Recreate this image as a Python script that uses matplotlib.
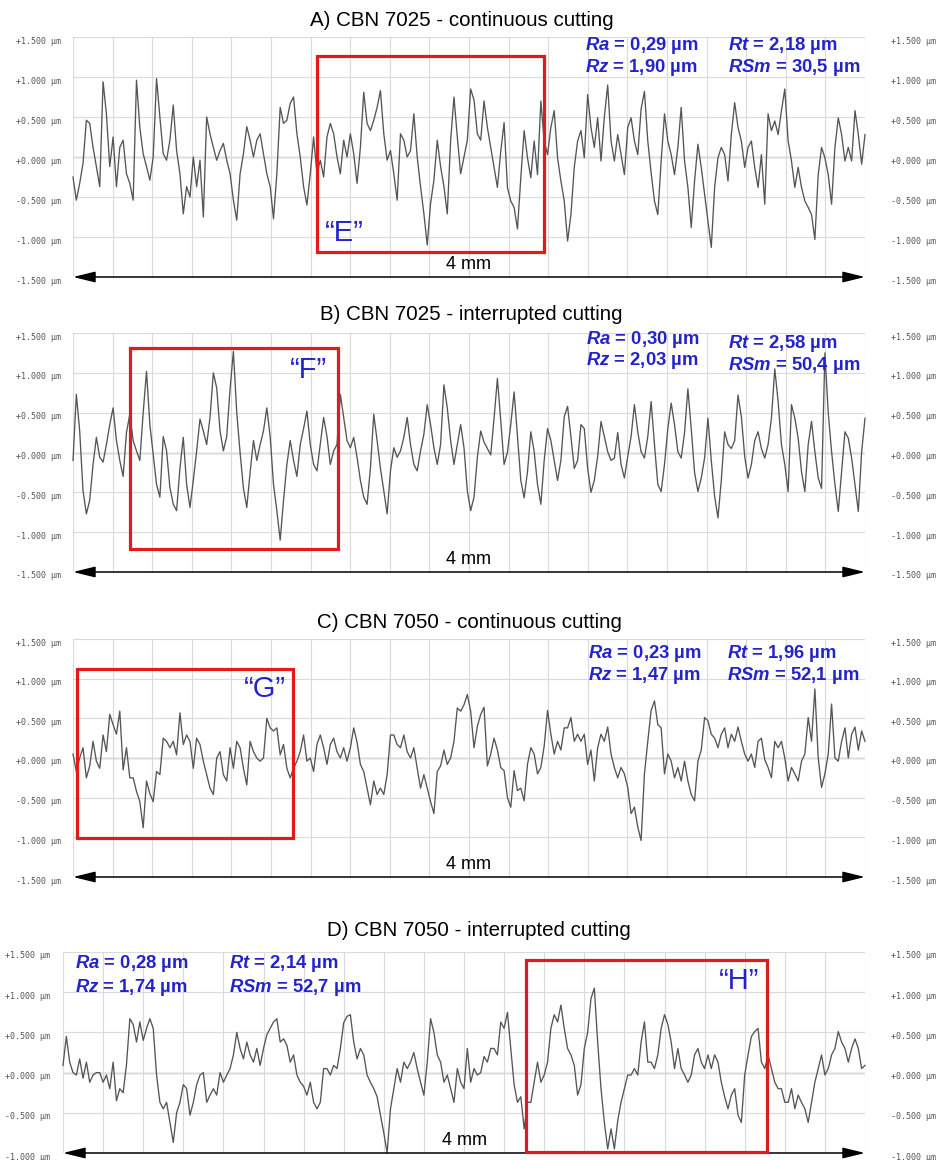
"""Roughness profiles for CBN 7025 / CBN 7050, continuous vs interrupted cutting."""

import matplotlib
matplotlib.use("Agg")
import matplotlib.pyplot as plt
import numpy as np
from matplotlib.patches import Rectangle
from matplotlib.transforms import ScaledTranslation

plt.rcParams["font.family"] = ["Liberation Sans", "DejaVu Sans"]
plt.rcParams["mathtext.fontset"] = "custom"
plt.rcParams["mathtext.it"] = "Liberation Sans:italic:bold"
plt.rcParams["mathtext.rm"] = "Liberation Sans:bold"

# ---- data: profile height (um), sampled evenly along the 4 mm traverse ----
profile_a = [
    -0.25, -0.54, -0.33, -0.08, 0.46, 0.42, 0.12, -0.12, -0.37, 0.94,
    0.54, -0.12, 0.25, -0.37, 0.12, 0.21, -0.21, -0.33, -0.54, 0.96,
    0.37, 0.04, -0.12, -0.29, 0.0, 0.98, 0.5, 0.04, -0.04, 0.21,
    0.65, 0.08, -0.21, -0.71, -0.37, -0.5, 0.0, -0.37, -0.04, -0.75,
    0.5, 0.29, 0.12, -0.04, 0.08, 0.17, -0.04, -0.21, -0.54, -0.79,
    -0.21, 0.04, 0.38, 0.21, 0.0, 0.21, 0.29, 0.04, -0.21, -0.37,
    -0.77, -0.21, 0.62, 0.42, 0.46, 0.67, 0.75, 0.29, 0.0, -0.37,
    -0.6, -0.21, 0.25, -0.21, -0.04, -0.25, 0.25, 0.42, 0.29, 0.0,
    -0.21, 0.21, 0.0, 0.29, 0.04, -0.33, 0.12, 0.81, 0.42, 0.33,
    0.46, 0.62, 0.83, 0.29, -0.04, 0.08, -0.21, -0.54, 0.29, 0.21,
    0.0, 0.08, 0.54, 0.0, -0.37, -0.71, -1.1, -0.58, -0.29, 0.21,
    -0.12, -0.37, -0.71, 0.2, 0.75, 0.25, -0.21, 0.0, 0.21, 0.85,
    0.71, 0.29, 0.21,
    0.7, 0.37, 0.12, -0.13, -0.38, 0.07, 0.43, -0.38, -0.55, -0.63,
    -0.9, -0.26, 0.33, -0.01, -0.26, 0.2, -0.22, 0.7, 0.2, 0.03,
    0.37, 0.58, -0.01, -0.3, -0.55, -1.05, -0.72, -0.13, 0.2, 0.33,
    -0.01, 0.78, 0.37, 0.12, 0.49, -0.05, 0.5, 0.9, 0.2, -0.05,
    0.28, 0.03, -0.22, 0.37, 0.49, 0.2, 0.03, 0.6, 0.82, 0.2,
    -0.2, -0.55, -0.72, -0.05, 0.54, 0.2, 0.03, -0.22, 0.12, 0.62,
    -0.05, -0.38, -0.88, -0.3, 0.16, -0.13, -0.47, -0.8, -1.13, -0.38,
    -0.01, 0.12, 0.03, -0.3, 0.28, 0.68, 0.37, 0.2, -0.13, 0.12,
    0.2, -0.13, -0.38, 0.03, -0.59, 0.54, 0.33, 0.45, 0.28, 0.58,
    0.85, 0.2, -0.05, -0.38, -0.13, -0.38, -0.55, -0.63, -0.72, -1.03,
    -0.22, 0.12, -0.01, -0.22, -0.59, 0.12, 0.49, 0.28, -0.05, 0.12,
    -0.05, 0.58, 0.28, -0.09, 0.28,
]

profile_b = [
    -0.1, 0.73, 0.27, -0.48, -0.77, -0.6, -0.15, 0.19, -0.06, -0.12,
    0.1, 0.35, 0.56, 0.15, -0.1, -0.3, 0.25, 0.48, 0.15, 0.02,
    -0.1, 0.5, 1.02, 0.35, -0.02, -0.4, -0.56, 0.2, 0.02, -0.44,
    -0.65, -0.73, -0.2, 0.19, -0.4, -0.69, -0.35, 0.02, 0.42, 0.27,
    0.1, 0.44, 1.0, 0.81, 0.27, 0.02, 0.2, 0.8, 1.27, 0.5,
    0.0, -0.45, -0.69, -0.25, 0.15, -0.1, 0.1, 0.27, 0.56, 0.2,
    -0.4, -0.73, -1.1, -0.6, -0.15, 0.15, -0.1, -0.3, 0.1, 0.3,
    0.52, 0.1, -0.15, -0.23, 0.1, 0.44, 0.2, -0.15, 0.02, 0.1,
    0.73, 0.44, 0.15, 0.06, 0.19, -0.06, -0.35, -0.56, -0.65, -0.2,
    0.48, 0.15, -0.2, -0.48, -0.77, -0.23, 0.06, -0.06, 0.02, 0.19,
    0.44, 0.1, -0.15, -0.23, 0.02, 0.23, 0.6, 0.35, 0.06, -0.15,
    0.1, 0.85, 0.56, 0.15, -0.15, 0.1, 0.35, 0.06, -0.48, -0.73,
    -0.56, -0.06, 0.27,
    0.13, 0.05, -0.03, 0.43, 0.93, 0.4, -0.15, 0.0, 0.35, 0.76,
    0.2, -0.35, -0.57, -0.24, 0.26, 0.01, -0.4, -0.65, -0.1, 0.3,
    0.15, -0.1, -0.35, -0.1, 0.45, 0.58, 0.2, -0.2, -0.1, 0.35,
    0.3, -0.2, -0.5, -0.35, -0.05, 0.39, 0.2, 0.01, -0.1, -0.07,
    0.25, -0.15, -0.32, -0.05, 0.2, 0.6, 0.26, 0.01, -0.07, 0.2,
    0.64, 0.1, -0.4, -0.49, -0.15, 0.3, 0.62, 0.35, 0.01, -0.07,
    0.25, 0.8, 0.3, -0.25, -0.49, -0.32, -0.07, 0.43, -0.1, -0.55,
    -0.82, -0.35, 0.26, 0.1, 0.05, 0.15, 0.72, 0.45, -0.05, -0.32,
    -0.15, 0.15, 0.26, 0.05, -0.07, 0.1, 0.43, 1.05, 0.64, 0.1,
    -0.15, -0.49, 0.6, 0.43, 0.18, -0.24, -0.49, 0.1, 0.39, 0.01,
    -0.32, -0.45, 1.25, 0.5, 0.01, -0.4, -0.74, -0.24, 0.26, 0.18,
    -0.07, -0.4, -0.74, 0.01, 0.43,
]

profile_c = [
    0.05, -0.17, 0.0, 0.13, -0.25, -0.1, 0.21, -0.04, -0.13, 0.29,
    0.08, 0.55, 0.42, 0.3, 0.59, -0.15, 0.13, -0.25, -0.25, -0.42,
    -0.55, -0.88, -0.29, -0.45, -0.55, -0.17, -0.21, 0.25, 0.21, 0.13,
    0.21, 0.04, 0.57, 0.17, 0.29, 0.21, -0.13, 0.25, 0.17, -0.04,
    -0.21, -0.38, -0.46, 0.0, 0.08, -0.21, -0.29, 0.13, -0.13, 0.21,
    0.13, -0.13, -0.34, 0.21, 0.08, 0.0, -0.04, 0.0, 0.5, 0.38,
    0.34, 0.38, 0.04, 0.17, -0.13, -0.25, -0.13, -0.04, 0.08, 0.29,
    -0.04, 0.0, -0.17, 0.17, 0.29, 0.13, -0.08, 0.17, 0.25, 0.08,
    0.0, 0.13, -0.04, 0.13, 0.38, 0.2, -0.08, -0.17, -0.38, -0.59,
    -0.29, -0.46, -0.38, -0.46, -0.21, 0.29, 0.29, 0.17, 0.13, 0.29,
    0.08, 0.0, 0.13, -0.13, -0.38, -0.21, -0.38, -0.55, -0.7, -0.17,
    -0.1, 0.1, -0.08, 0.0, 0.21, 0.63, 0.59, 0.67, 0.8, 0.59,
    0.13, 0.4, 0.55,
    0.64, -0.1, 0.05, 0.25, 0.1, -0.12, -0.16, -0.5, -0.62, -0.16,
    -0.41, -0.38, -0.54, -0.08, 0.13, 0.05, -0.2, -0.12, 0.15, 0.6,
    0.3, 0.05, 0.21, 0.1, 0.38, 0.38, 0.51, 0.21, 0.3, 0.21,
    0.3, -0.08, 0.1, -0.29, 0.13, 0.3, 0.21, 0.39, 0.05, -0.12,
    -0.25, -0.12, -0.2, -0.37, -0.7, -0.62, -0.87, -1.04, -0.2, 0.21,
    0.6, 0.72, 0.42, 0.38, -0.2, 0.05, -0.04, -0.25, -0.12, -0.29,
    -0.04, -0.29, -0.46, -0.54, -0.04, 0.1, 0.51, 0.47, 0.3, 0.25,
    0.13, 0.3, 0.38, 0.13, 0.3, 0.21, 0.39, 0.21, 0.05, -0.04,
    0.05, -0.12, 0.21, 0.25, -0.02, -0.12, -0.25, 0.21, 0.13, 0.21,
    0.0, -0.29, -0.12, -0.2, -0.29, -0.04, 0.05, 0.51, 0.21, 0.87,
    0.0, -0.37, -0.2, 0.05, 0.68, 0.0, -0.04, 0.21, 0.38, 0.0,
    0.3, 0.39, 0.1, 0.34, 0.21,
]

profile_d = [
    0.09, 0.45, 0.13, 0.0, -0.03, 0.17, -0.07, 0.13, -0.12, -0.03,
    0.0, 0.0, -0.12, -0.03, -0.2, 0.13, -0.35, -0.2, -0.25, 0.1,
    0.67, 0.6, 0.38, 0.63, 0.4, 0.55, 0.67, 0.55, -0.03, -0.37,
    -0.45, -0.37, -0.62, -0.87, -0.5, -0.37, -0.15, -0.2, -0.53, -0.37,
    -0.15, -0.03, 0.0, -0.37, -0.28, -0.2, -0.28, 0.0, -0.12, -0.03,
    0.05, 0.22, 0.5, 0.3, 0.17, 0.38, 0.22, 0.13, 0.3, 0.09,
    0.3, 0.47, 0.55, 0.63, 0.67, 0.38, 0.42, 0.34, 0.13, 0.22,
    -0.03, -0.12, -0.17, -0.28, -0.12, -0.37, -0.45, -0.37, 0.05, 0.05,
    -0.03, 0.09, 0.05, 0.3, 0.62, 0.7, 0.72, 0.38, 0.17, 0.3,
    0.22, -0.03, -0.12, -0.2, -0.3, -0.53, -0.75, -1.0, -0.45, -0.2,
    0.05, -0.12, 0.13, 0.05, 0.13, 0.25, 0.05, -0.12, -0.28, 0.13,
    0.67, 0.5, 0.22, 0.13, -0.12, -0.03, -0.2, -0.37, 0.05, -0.12,
    -0.2, 0.3, -0.12, 0.05, -0.03, 0.0,
    0.2, 0.13, 0.3, 0.3, 0.22, 0.63, 0.55, 0.75, 0.3, -0.15,
    -0.37, -0.3, -0.7, -0.37, -0.37, -0.12, 0.13, -0.12, -0.03, 0.13,
    0.55, 0.72, 0.63, 0.84, 0.55, 0.3, 0.22, 0.09, -0.28, -0.15,
    0.3, 0.5, 0.92, 1.05, 0.38, -0.2, -0.62, -0.95, -0.7, -0.95,
    -0.6, -0.37, -0.2, -0.03, -0.03, 0.05, -0.03, 0.38, 0.63, 0.13,
    0.13, 0.05, 0.22, 0.55, 0.72, 0.6, 0.38, 0.05, 0.3, 0.05,
    -0.03, -0.12, -0.03, 0.22, 0.3, 0.13, 0.05, 0.22, 0.05, 0.22,
    0.13, -0.12, -0.3, -0.45, -0.28, -0.2, -0.53, -0.62, -0.03, 0.22,
    0.45, 0.51, 0.55, 0.13, 0.05, 0.22, 0.05, -0.12, -0.2, -0.2,
    -0.37, -0.37, -0.2, -0.45, -0.28, -0.37, -0.45, -0.62, -0.37, -0.12,
    0.05, 0.22, -0.03, 0.05, 0.22, 0.3, 0.51, 0.38, 0.3, 0.13,
    0.3, 0.42, 0.3, 0.05, 0.09,
]

profiles = [profile_a, profile_b, profile_c, profile_d]
titles = [
    "A) CBN 7025 - continuous cutting",
    "B) CBN 7025 - interrupted cutting",
    "C) CBN 7050 - continuous cutting",
    "D) CBN 7050 - interrupted cutting",
]
ra_values = ["0,29", "0,30", "0,23", "0,28"]
rz_values = ["1,90", "2,03", "1,47", "1,74"]
rt_values = ["2,18", "2,58", "1,96", "2,14"]
rsm_values = ["30,5", "50,4", "52,1", "52,7"]
zone_names = ["E", "F", "G", "H"]
length_mm = 4.0

# ---- layout (pixels of the 941 x 1160 canvas) ----
W, H = 941, 1160
axes_px = [(73, 37, 865, 277), (73, 333, 865, 572), (73, 639, 865, 877), (63, 952, 865, 1153)]
ylims = [(-1.5, 1.5), (-1.5, 1.5), (-1.5, 1.5), (-1.0, 1.5)]
title_px = [(462, 20), (471, 315), (469, 622), (479, 930)]
# (x col1, y Ra, y Rz, x col2, y Rt, y RSm)
stats_px = [(585, 45, 67, 728, 45, 67), (586, 340, 361, 728, 343, 366),
            (588, 653, 675, 727, 653, 676), (75, 963, 987, 229, 963, 987)]
zone_boxes = [(1.23, -1.19, 2.38, 1.26), (0.29, -1.21, 1.34, 1.31),
              (0.02, -1.01, 1.11, 1.125), (2.31, -0.99, 3.51, 1.40)]
zone_labels = [(1.37, -0.95), (1.19, 1.03), (0.97, 0.875), (3.37, 1.14)]

BLUE = "#2323cc"
RED = "#e01b1b"
TRACE = "#555555"
GRID = "#dadada"

fig = plt.figure(figsize=(W / 100, H / 100), dpi=100)
fig.patch.set_facecolor("white")
label_shift = ScaledTranslation(0, -3 / 100, fig.dpi_scale_trans)


def fig_xy(x, y):
    return x / W, 1 - y / H


for i, prof in enumerate(profiles):
    left, top, right, bottom = axes_px[i]
    ax = fig.add_axes([left / W, 1 - bottom / H, (right - left) / W, (bottom - top) / H])
    lo, hi = ylims[i]

    x = np.linspace(0, length_mm, len(prof))
    ax.plot(x, prof, color=TRACE, lw=0.95, clip_on=False, zorder=3)

    ax.set_xlim(0, length_mm)
    ax.set_ylim(lo, hi)
    for s in ax.spines.values():
        s.set_visible(False)

    ax.set_xticks(np.arange(0, length_mm + 0.01, 0.2))
    ax.tick_params(axis="x", length=0, labelbottom=False)
    yt = np.arange(hi, lo - 0.01, -0.5)
    ylabels = [f"{v:+.3f} \u00b5m" for v in yt]
    ax.set_yticks(yt)
    ax.set_yticklabels(ylabels, fontfamily="DejaVu Sans Mono", fontsize=6, color="#555555")
    ax.tick_params(axis="y", length=0, pad=9)
    ax.grid(True, color=GRID, lw=0.8, zorder=0)
    ax.axhline(0, color="#8a8a8a", lw=0.9, zorder=1)

    sec = ax.secondary_yaxis("right")
    sec.set_yticks(yt)
    sec.set_yticklabels(ylabels, fontfamily="DejaVu Sans Mono", fontsize=6, color="#555555")
    sec.tick_params(length=0, pad=19)
    sec.spines["right"].set_visible(False)
    for lab in ax.get_yticklabels() + sec.get_yticklabels():
        lab.set_transform(lab.get_transform() + label_shift)

    # 4 mm traverse arrow
    ax.annotate("", xy=(length_mm, lo), xytext=(0, lo),
                arrowprops=dict(arrowstyle="<|-|>,head_length=0.9,head_width=0.22",
                                color="black", lw=1.1, mutation_scale=15,
                                shrinkA=0, shrinkB=0),
                annotation_clip=False, zorder=4)
    ax.annotate("4 mm", xy=(length_mm / 2, lo), xytext=(0, 3), textcoords="offset points",
                ha="center", va="bottom", fontsize=13, zorder=4)

    # highlighted zone
    x0, y0, x1, y1 = zone_boxes[i]
    ax.add_patch(Rectangle((x0, y0), x1 - x0, y1 - y0, fill=False,
                           edgecolor=RED, lw=2.3, zorder=5, clip_on=False))
    lx, ly = zone_labels[i]
    ax.text(lx, ly, "\u201c" + zone_names[i] + "\u201d", color=BLUE, fontsize=21,
            ha="center", va="center", zorder=6)

    # title
    fig.text(*fig_xy(*title_px[i]), titles[i], ha="center", va="center", fontsize=14.8)

    # roughness parameters
    c1x, ra_y, rz_y, c2x, rt_y, rsm_y = stats_px[i]
    kw = dict(color=BLUE, fontsize=13.3, fontweight="bold", va="center", ha="left")
    fig.text(*fig_xy(c1x, ra_y), f"$Ra$ = {ra_values[i]} \u00b5m", **kw)
    fig.text(*fig_xy(c1x, rz_y), f"$Rz$ = {rz_values[i]} \u00b5m", **kw)
    fig.text(*fig_xy(c2x, rt_y), f"$Rt$ = {rt_values[i]} \u00b5m", **kw)
    fig.text(*fig_xy(c2x, rsm_y), f"$RSm$ = {rsm_values[i]} \u00b5m", **kw)

fig.savefig("out.png", dpi=100, facecolor="white")
